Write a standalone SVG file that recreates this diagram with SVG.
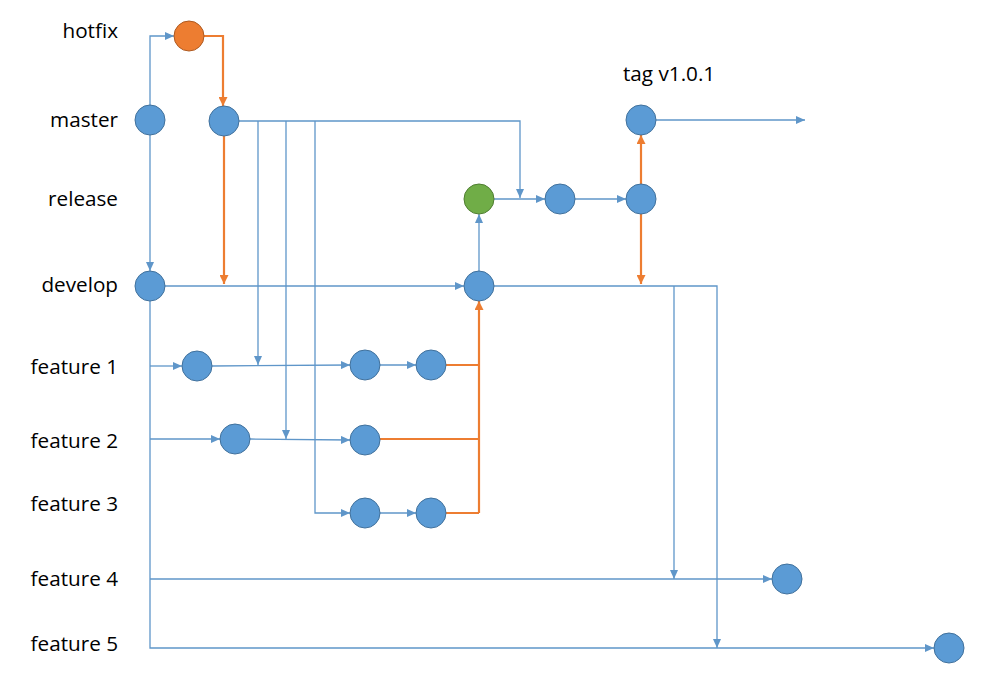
<svg xmlns="http://www.w3.org/2000/svg" width="983" height="683" viewBox="0 0 983 683">
<style>
.lbl{font-family:"Open Sans","Liberation Sans",sans-serif;font-size:20.7px;fill:#000;text-anchor:end}
.tag{font-family:"Open Sans","Liberation Sans",sans-serif;font-size:20.7px;fill:#000}
.n{fill:#5b9bd5;stroke:#41719c;stroke-width:1}
.o{fill:#ed7d31;stroke:#ae5a21;stroke-width:1}
.g{fill:#70ad47;stroke:#507e32;stroke-width:1}
.b{fill:none;stroke:#5f96c9;stroke-width:1.3}
.ba{fill:none;stroke:#5f96c9;stroke-width:1.3;marker-end:url(#ab)}
.oa{fill:none;stroke:#ed7d31;stroke-width:2.2;marker-end:url(#ao)}
.ob{fill:none;stroke:#ed7d31;stroke-width:2.2}
</style>
<defs>
<marker id="ab" markerUnits="userSpaceOnUse" markerWidth="10" markerHeight="8" refX="9" refY="4" orient="auto"><path d="M0,0 L9,4 L0,8 z" fill="#5f96c9"/></marker>
<marker id="ao" markerUnits="userSpaceOnUse" markerWidth="10" markerHeight="9" refX="9" refY="4.5" orient="auto"><path d="M0,0 L9,4.5 L0,9 z" fill="#ed7d31"/></marker>
</defs>
<rect width="983" height="683" fill="#fff"/>
<g id="labels">
<text class="lbl" x="118" y="38">hotfix</text>
<text class="lbl" x="118" y="127">master</text>
<text class="lbl" x="118" y="206">release</text>
<text class="lbl" x="118" y="292">develop</text>
<text class="lbl" x="118" y="374">feature 1</text>
<text class="lbl" x="118" y="448">feature 2</text>
<text class="lbl" x="118" y="511">feature 3</text>
<text class="lbl" x="118" y="586">feature 4</text>
<text class="lbl" x="118" y="651">feature 5</text>
<text class="tag" x="623" y="81">tag v1.0.1</text>
</g>
<g id="connectors">
<path class="ba" d="M150,105 V36 H174"/>
<path class="oa" d="M204,36 H223 V106"/>
<path class="ba" d="M150,135 V271"/>
<path class="oa" d="M224,136 V284"/>
<path class="ba" d="M239,121 H520 V198"/>
<path class="ba" d="M258,121 V365"/>
<path class="ba" d="M286,121 V439"/>
<path class="ba" d="M315,121 V513 H350"/>
<path class="ba" d="M165,286 H464"/>
<path class="ba" d="M479,271 V214"/>
<path class="ba" d="M494,199 H545"/>
<path class="ba" d="M575,199 H626"/>
<path class="oa" d="M641,184 V135"/>
<path class="oa" d="M641,214 V284"/>
<path class="ba" d="M656,120 H805"/>
<path class="ba" d="M494,286 H717 V648"/>
<path class="ba" d="M674,286 V579"/>
<path class="ba" d="M150,301 V648 H934"/>
<path class="ba" d="M150,366 H182"/>
<path class="ba" d="M212,366 L350,365"/>
<path class="ba" d="M380,365 H416"/>
<path class="ba" d="M150,439 H220"/>
<path class="ba" d="M250,439 L350,440"/>
<path class="ba" d="M380,513 H416"/>
<path class="ba" d="M150,579 H772"/>
<path class="ob" d="M446,365 H479"/>
<path class="ob" d="M380,439 H479"/>
<path class="ob" d="M446,513 H479"/>
<path class="oa" d="M479,513 V301"/>
</g>
<g id="hotfix1"><circle class="o" cx="189" cy="36" r="15"/></g>
<g id="master1"><circle class="n" cx="150" cy="120" r="15"/></g>
<g id="master2"><circle class="n" cx="224" cy="121" r="15"/></g>
<g id="tag"><circle class="n" cx="641" cy="120" r="15"/></g>
<g id="release1"><circle class="g" cx="479" cy="199" r="15"/></g>
<g id="release2"><circle class="n" cx="560" cy="199" r="15"/></g>
<g id="release3"><circle class="n" cx="641" cy="199" r="15"/></g>
<g id="develop1"><circle class="n" cx="150" cy="286" r="15"/></g>
<g id="develop2"><circle class="n" cx="479" cy="286" r="15"/></g>
<g id="f1a"><circle class="n" cx="197" cy="366" r="15"/></g>
<g id="f1b"><circle class="n" cx="365" cy="365" r="15"/></g>
<g id="f1c"><circle class="n" cx="431" cy="365" r="15"/></g>
<g id="f2a"><circle class="n" cx="235" cy="439" r="15"/></g>
<g id="f2b"><circle class="n" cx="365" cy="440" r="15"/></g>
<g id="f3a"><circle class="n" cx="365" cy="513" r="15"/></g>
<g id="f3b"><circle class="n" cx="431" cy="513" r="15"/></g>
<g id="f4"><circle class="n" cx="787" cy="579" r="15"/></g>
<g id="f5"><circle class="n" cx="949" cy="648" r="15"/></g>
</svg>
